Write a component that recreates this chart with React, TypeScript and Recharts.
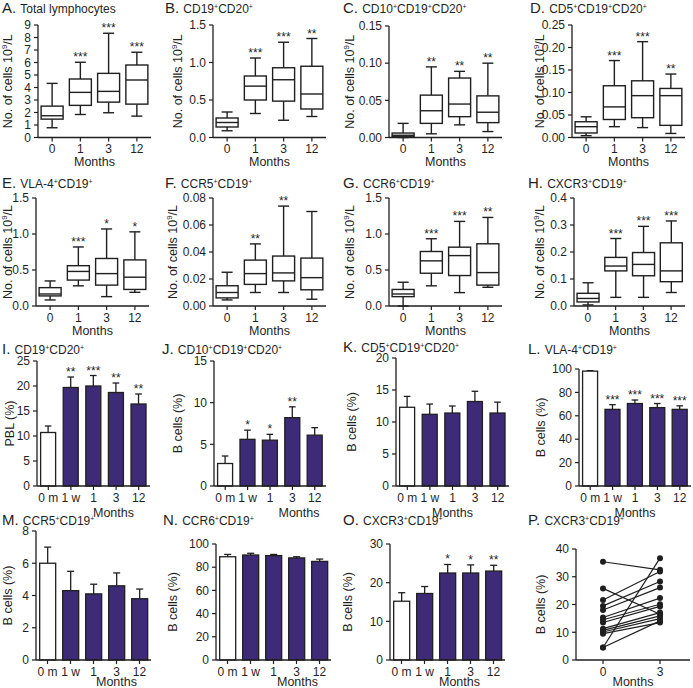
import React from 'react';
import { BarChart, Bar, XAxis, YAxis, LineChart, Line } from 'recharts';

const INK = '#1f1f1f';
const PURPLE = '#3e2b78';
const FONT = "'Liberation Sans', Arial, Helvetica, sans-serif";

const boxMonths = ['0', '1', '3', '12'];
const barMonths = ['0 m', '1 w', '1', '3', '12'];
const pairMonths = ['0', '3'];

// box plots: [min, q1, median, q3, max] per month
type Box = [number, number, number, number, number];

const lymphBox: Box[] = [[0.78, 1.47, 1.74, 2.51, 4.33], [1.84, 2.57, 3.61, 4.68, 6.02], [1.98, 2.83, 3.69, 5.13, 8.34], [1.71, 2.67, 4.6, 5.8, 6.82]];
const lymphSig = ['', '***', '***', '***'];
const cd20Box: Box[] = [[0.09, 0.14, 0.2, 0.26, 0.34], [0.32, 0.5, 0.685, 0.82, 1.06], [0.23, 0.485, 0.77, 0.93, 1.27], [0.28, 0.38, 0.58, 0.95, 1.32]];
const cd20Sig = ['', '***', '***', '**'];
const cd10Box: Box[] = [[0, 0.001, 0.003, 0.006, 0.019], [0.005, 0.019, 0.036, 0.057, 0.095], [0.017, 0.028, 0.045, 0.08, 0.089], [0.008, 0.02, 0.034, 0.056, 0.1]];
const cd10Sig = ['', '**', '**', '**'];
const cd5Box: Box[] = [[0.004, 0.01, 0.024, 0.035, 0.046], [0.024, 0.04, 0.068, 0.115, 0.171], [0.022, 0.044, 0.093, 0.126, 0.213], [0.009, 0.027, 0.093, 0.109, 0.141]];
const cd5Sig = ['', '***', '***', '**'];
const vlaBox: Box[] = [[0.084, 0.14, 0.167, 0.255, 0.348], [0.28, 0.36, 0.48, 0.56, 0.82], [0.13, 0.29, 0.45, 0.66, 1.07], [0.19, 0.23, 0.4, 0.64, 1.03]];
const vlaSig = ['', '***', '*', '*'];
const ccr5Box: Box[] = [[0.0045, 0.006, 0.01, 0.015, 0.025], [0.01, 0.016, 0.024, 0.034, 0.046], [0.01, 0.0186, 0.0245, 0.037, 0.074], [0.005, 0.012, 0.021, 0.0355, 0.07]];
const ccr5Sig = ['', '**', '**', ''];
const ccr6Box: Box[] = [[0.0, 0.13, 0.167, 0.23, 0.33], [0.28, 0.455, 0.627, 0.757, 0.934], [0.186, 0.423, 0.7, 0.817, 1.175], [0.26, 0.29, 0.464, 0.864, 1.23]];
const ccr6Sig = ['', '***', '***', '**'];
const cxcr3Box: Box[] = [[0.004, 0.015, 0.028, 0.047, 0.086], [0.032, 0.13, 0.148, 0.18, 0.25], [0.032, 0.112, 0.154, 0.198, 0.295], [0.05, 0.09, 0.13, 0.234, 0.315]];
const cxcr3Sig = ['', '***', '***', '***'];

// bar charts: mean and SEM per time point
const cd20PctMean = [10.7, 19.7, 20.0, 18.7, 16.4];
const cd20PctErr = [1.3, 2.1, 2.1, 1.9, 2.0];
const cd20PctSig = ['', '**', '***', '**', '**'];
const cd10PctMean = [2.7, 5.6, 5.5, 8.2, 6.1];
const cd10PctErr = [0.9, 1.1, 0.7, 1.3, 0.9];
const cd10PctSig = ['', '*', '*', '**', ''];
const cd5PctMean = [12.3, 11.2, 11.4, 13.2, 11.4];
const cd5PctErr = [1.7, 1.6, 1.1, 1.6, 1.7];
const cd5PctSig = ['', '', '', '', ''];
const vlaPctMean = [98.2, 65.5, 70.5, 67.0, 65.5];
const vlaPctErr = [0.4, 4.0, 3.0, 3.5, 3.0];
const vlaPctSig = ['', '***', '***', '***', '***'];
const ccr5PctMean = [6.0, 4.3, 4.1, 4.6, 3.8];
const ccr5PctErr = [1.0, 1.2, 0.6, 0.8, 0.6];
const ccr5PctSig = ['', '', '', '', ''];
const ccr6PctMean = [89, 90.5, 90, 88, 85];
const ccr6PctErr = [2, 1.5, 1, 1, 2];
const ccr6PctSig = ['', '', '', '', ''];
const cxcr3PctMean = [15.2, 17.2, 22.5, 22.5, 23.0];
const cxcr3PctErr = [2.2, 1.8, 2.2, 2.1, 1.5];
const cxcr3PctSig = ['', '', '*', '*', '**'];

// P: paired CXCR3+CD19+ (%) per patient, month 0 and month 3
const cxcr3At0 = [35.4, 25.8, 21.6, 19.5, 18.0, 15.3, 14.5, 13.5, 11.3, 10.7, 10.1, 9.5, 4.5, 4.5];
const cxcr3At3 = [32.5, 16.5, 31.9, 28.3, 26.1, 22.3, 20.1, 19.3, 17.1, 15.9, 14.9, 13.5, 36.7, 14.1];

const YW = 60;
const MT = 14;
const MR = 6;
const XH = 34;

const axisProps = {
  axisLine: { stroke: INK, strokeWidth: 1.3 },
  tickLine: { stroke: INK, strokeWidth: 1.2 },
  tickSize: 4,
  tickMargin: 3,
  tick: { fontSize: 12, fill: INK, fontFamily: FONT },
};

function cellsLabel() {
  return (
    <>
      No. of cells 10<tspan dy={-4} fontSize={8}>9</tspan>
      <tspan dy={4}>/L</tspan>
    </>
  );
}

function yLabel(text: React.ReactNode, cx: number) {
  return (p: any) => {
    const vb = p.viewBox;
    const cy = vb.y + vb.height / 2;
    return (
      <text x={cx} y={cy} transform={`rotate(-90 ${cx} ${cy})`} textAnchor="middle" dominantBaseline="central"
        fontSize={12.5} fill={INK} fontFamily={FONT}>
        {text}
      </text>
    );
  };
}

function xLabel(dx: number, dy: number) {
  return (p: any) => {
    const vb = p.viewBox;
    return (
      <text x={vb.x + vb.width / 2 + dx} y={vb.y + dy} textAnchor="middle" fontSize={12.5} fill={INK} fontFamily={FONT}>
        Months
      </text>
    );
  };
}

function Stars({ x, y, s }: { x: number; y: number; s: string }) {
  if (!s) return null;
  return (
    <text x={x} y={y} textAnchor="middle" fontSize={12} fill={INK} fontFamily={FONT}>{s}</text>
  );
}

function BoxShape(props: any) {
  const { x, y, width, height, payload } = props;
  const { lo, q1, med, q3, hi, sig } = payload;
  const py = (v: number) => y + ((hi - v) / (hi - lo)) * height;
  const cx = x + width / 2;
  const cap = width * 0.25;
  return (
    <g stroke={INK} strokeWidth={1.4} fill="none">
      <line x1={cx} x2={cx} y1={py(hi)} y2={py(q3)} />
      <line x1={cx} x2={cx} y1={py(q1)} y2={py(lo)} />
      <line x1={cx - cap} x2={cx + cap} y1={py(hi)} y2={py(hi)} />
      <line x1={cx - cap} x2={cx + cap} y1={py(lo)} y2={py(lo)} />
      <rect x={x} y={py(q3)} width={width} height={Math.max(py(q1) - py(q3), 1)} fill="#fff" />
      <line x1={x} x2={x + width} y1={py(med)} y2={py(med)} />
      <g stroke="none">
        <Stars x={cx} y={py(hi) - 1} s={sig} />
      </g>
    </g>
  );
}

function MeanShape(props: any) {
  const { x, y, width, height, payload, index } = props;
  const { mean, err, sig } = payload;
  const top = mean + err;
  const py = (v: number) => y + ((top - v) / top) * height;
  const cx = x + width / 2;
  const cap = width * 0.22;
  return (
    <g stroke={INK} strokeWidth={1.3}>
      <line x1={cx} x2={cx} y1={py(top)} y2={py(mean)} />
      <line x1={cx - cap} x2={cx + cap} y1={py(top)} y2={py(top)} />
      <rect x={x} y={py(mean)} width={width} height={py(0) - py(mean)} fill={index === 0 ? '#fff' : PURPLE} />
      <g stroke="none">
        <Stars x={cx} y={py(top) - 1} s={sig} />
      </g>
    </g>
  );
}

function Title({ letter, text, x, y }: { letter: string; text: string; x: number; y: number }) {
  const parts = text.split('+');
  return (
    <div style={{ position: 'absolute', left: x, top: y, fontFamily: FONT, color: INK, whiteSpace: 'nowrap', lineHeight: '17px' }}>
      <span style={{ fontSize: 15 }}>{letter}. </span>
      <span style={{ fontSize: 12 }}>
        {parts.map((s, i) => (
          <React.Fragment key={i}>
            {s}
            {i < parts.length - 1 && <span style={{ fontSize: 7, position: 'relative', top: -4 }}>+</span>}
          </React.Fragment>
        ))}
      </span>
    </div>
  );
}

type Plot = [number, number, number, number];

function BoxPanel({ box, sig, ticks, digits, plot, labelX, monthsY }: {
  box: Box[]; sig: string[]; ticks: number[]; digits: number; plot: Plot; labelX: number; monthsY: number;
}) {
  const [l, t, r, b] = plot;
  const rows = boxMonths.map((m, i) => ({ m, lo: box[i][0], q1: box[i][1], med: box[i][2], q3: box[i][3], hi: box[i][4], sig: sig[i] }));
  return (
    <div style={{ position: 'absolute', left: l - YW, top: t - MT }}>
      <BarChart width={r - l + YW + MR} height={b - t + MT + XH} data={rows}
        margin={{ top: MT, right: MR, left: 0, bottom: 0 }} barCategoryGap="11%">
        <XAxis dataKey="m" height={XH} interval={0} {...axisProps} label={xLabel(0, monthsY)} />
        <YAxis width={YW} domain={[0, ticks[ticks.length - 1]]} ticks={ticks} interval={0}
          tickFormatter={(v: number) => v.toFixed(digits)} {...axisProps} label={yLabel(cellsLabel(), labelX - (l - YW))} />
        <Bar dataKey={(d: any) => [d.lo, d.hi]} shape={(p: any) => <BoxShape {...p} />} isAnimationActive={false} />
      </BarChart>
    </div>
  );
}

function MeanPanel({ mean, err, sig, ticks, ylab, plot, labelX, monthsDx, monthsY }: {
  mean: number[]; err: number[]; sig: string[]; ticks: number[]; ylab: string; plot: Plot; labelX: number; monthsDx: number; monthsY: number;
}) {
  const [l, t, r, b] = plot;
  const rows = barMonths.map((m, i) => ({ m, mean: mean[i], err: err[i], sig: sig[i] }));
  return (
    <div style={{ position: 'absolute', left: l - YW, top: t - MT }}>
      <BarChart width={r - l + YW + MR} height={b - t + MT + XH} data={rows}
        margin={{ top: MT, right: MR, left: 0, bottom: 0 }} barCategoryGap="16%">
        <XAxis dataKey="m" height={XH} interval={0} {...axisProps} label={xLabel(monthsDx, monthsY)} />
        <YAxis width={YW} domain={[0, ticks[ticks.length - 1]]} ticks={ticks} interval={0}
          {...axisProps} label={yLabel(ylab, labelX - (l - YW))} />
        <Bar dataKey={(d: any) => [0, d.mean + d.err]} shape={(p: any) => <MeanShape {...p} />} isAnimationActive={false} />
      </BarChart>
    </div>
  );
}

function PairPanel({ plot, labelX }: { plot: Plot; labelX: number }) {
  const [l, t, r, b] = plot;
  const rows = pairMonths.map((m, k) => {
    const o: any = { m };
    cxcr3At0.forEach((v, i) => { o['s' + i] = k === 0 ? v : cxcr3At3[i]; });
    return o;
  });
  return (
    <div style={{ position: 'absolute', left: l - YW, top: t - MT }}>
      <LineChart width={r - l + YW + MR} height={b - t + MT + XH} data={rows}
        margin={{ top: MT, right: MR, left: 0, bottom: 0 }}>
        <XAxis dataKey="m" height={XH} interval={0} padding={{ left: 27, right: 30 }} {...axisProps} label={xLabel(0, 26)} />
        <YAxis width={YW} domain={[0, 40]} ticks={[0, 10, 20, 30, 40]} interval={0} {...axisProps}
          label={yLabel('B cells (%)', labelX - (l - YW))} />
        {cxcr3At0.map((_, i) => (
          <Line key={i} dataKey={'s' + i} stroke={INK} strokeWidth={1.2}
            dot={{ r: 3, fill: INK, stroke: INK, strokeWidth: 0 }} isAnimationActive={false} />
        ))}
      </LineChart>
    </div>
  );
}

export default function App() {
  return (
    <div style={{ position: 'absolute', left: 0, top: 0, width: 693, height: 688, background: '#fff', overflow: 'hidden' }}>
      <Title letter="A" text="Total lymphocytes" x={2} y={-1} />
      <Title letter="B" text="CD19+CD20+" x={165} y={-1} />
      <Title letter="C" text="CD10+CD19+CD20+" x={343} y={-1} />
      <Title letter="D" text="CD5+CD19+CD20+" x={530} y={-1} />
      <BoxPanel box={lymphBox} sig={lymphSig} ticks={[0, 1, 2, 3, 4, 5, 6, 7, 8, 9]} digits={0} plot={[38, 25, 151, 137.5]} labelX={8} monthsY={28} />
      <BoxPanel box={cd20Box} sig={cd20Sig} ticks={[0, 0.5, 1, 1.5]} digits={1} plot={[213, 25, 326, 137.5]} labelX={178} monthsY={28} />
      <BoxPanel box={cd10Box} sig={cd10Sig} ticks={[0, 0.05, 0.1, 0.15]} digits={2} plot={[389, 26, 502, 137.5]} labelX={350} monthsY={28} />
      <BoxPanel box={cd5Box} sig={cd5Sig} ticks={[0, 0.05, 0.1, 0.15, 0.2, 0.25]} digits={2} plot={[572, 25, 685, 137.5]} labelX={540} monthsY={28} />

      <Title letter="E" text="VLA-4+CD19+" x={2} y={174} />
      <Title letter="F" text="CCR5+CD19+" x={165} y={174} />
      <Title letter="G" text="CCR6+CD19+" x={343} y={174} />
      <Title letter="H" text="CXCR3+CD19+" x={528} y={174} />
      <BoxPanel box={vlaBox} sig={vlaSig} ticks={[0, 0.5, 1, 1.5]} digits={1} plot={[36, 198, 149, 306]} labelX={8} monthsY={29} />
      <BoxPanel box={ccr5Box} sig={ccr5Sig} ticks={[0, 0.02, 0.04, 0.06, 0.08]} digits={2} plot={[213, 198, 326, 306]} labelX={173} monthsY={29} />
      <BoxPanel box={ccr6Box} sig={ccr6Sig} ticks={[0, 0.5, 1, 1.5]} digits={1} plot={[389, 198, 502, 306]} labelX={350} monthsY={29} />
      <BoxPanel box={cxcr3Box} sig={cxcr3Sig} ticks={[0, 0.1, 0.2, 0.3, 0.4]} digits={1} plot={[574, 198, 685, 306]} labelX={540} monthsY={29} />

      <Title letter="I" text="CD19+CD20+" x={2} y={340} />
      <Title letter="J" text="CD10+CD19+CD20+" x={162} y={340} />
      <Title letter="K" text="CD5+CD19+CD20+" x={343} y={338} />
      <Title letter="L" text="VLA-4+CD19+" x={528} y={340} />
      <MeanPanel mean={cd20PctMean} err={cd20PctErr} sig={cd20PctSig} ticks={[0, 5, 10, 15, 20, 25]} ylab="PBL (%)" plot={[37, 361, 150, 486]} labelX={10} monthsDx={20} monthsY={31} />
      <MeanPanel mean={cd10PctMean} err={cd10PctErr} sig={cd10PctSig} ticks={[0, 5, 10, 15]} ylab="B cells (%)" plot={[214, 361, 326, 486]} labelX={178} monthsDx={29} monthsY={31} />
      <MeanPanel mean={cd5PctMean} err={cd5PctErr} sig={cd5PctSig} ticks={[0, 5, 10, 15, 20]} ylab="B cells (%)" plot={[396, 358, 509, 486]} labelX={352} monthsDx={0} monthsY={31} />
      <MeanPanel mean={vlaPctMean} err={vlaPctErr} sig={vlaPctSig} ticks={[0, 20, 40, 60, 80, 100]} ylab="B cells (%)" plot={[579, 369, 691, 486]} labelX={541} monthsDx={0} monthsY={31} />

      <Title letter="M" text="CCR5+CD19+" x={2} y={511} />
      <Title letter="N" text="CCR6+CD19+" x={163} y={511} />
      <Title letter="O" text="CXCR3+CD19+" x={343} y={511} />
      <Title letter="P" text="CXCR3+CD19+" x={528} y={511} />
      <MeanPanel mean={ccr5PctMean} err={ccr5PctErr} sig={ccr5PctSig} ticks={[0, 2, 4, 6, 8]} ylab="B cells (%)" plot={[36, 531, 151, 660]} labelX={8} monthsDx={23} monthsY={26} />
      <MeanPanel mean={ccr6PctMean} err={ccr6PctErr} sig={ccr6PctSig} ticks={[0, 20, 40, 60, 80, 100]} ylab="B cells (%)" plot={[216, 544, 331, 660]} labelX={173} monthsDx={24} monthsY={26} />
      <MeanPanel mean={cxcr3PctMean} err={cxcr3PctErr} sig={cxcr3PctSig} ticks={[0, 10, 20, 30]} ylab="B cells (%)" plot={[390, 544, 505, 660]} labelX={348} monthsDx={12} monthsY={26} />
      <PairPanel plot={[576, 549, 690, 660]} labelX={541} />
    </div>
  );
}
